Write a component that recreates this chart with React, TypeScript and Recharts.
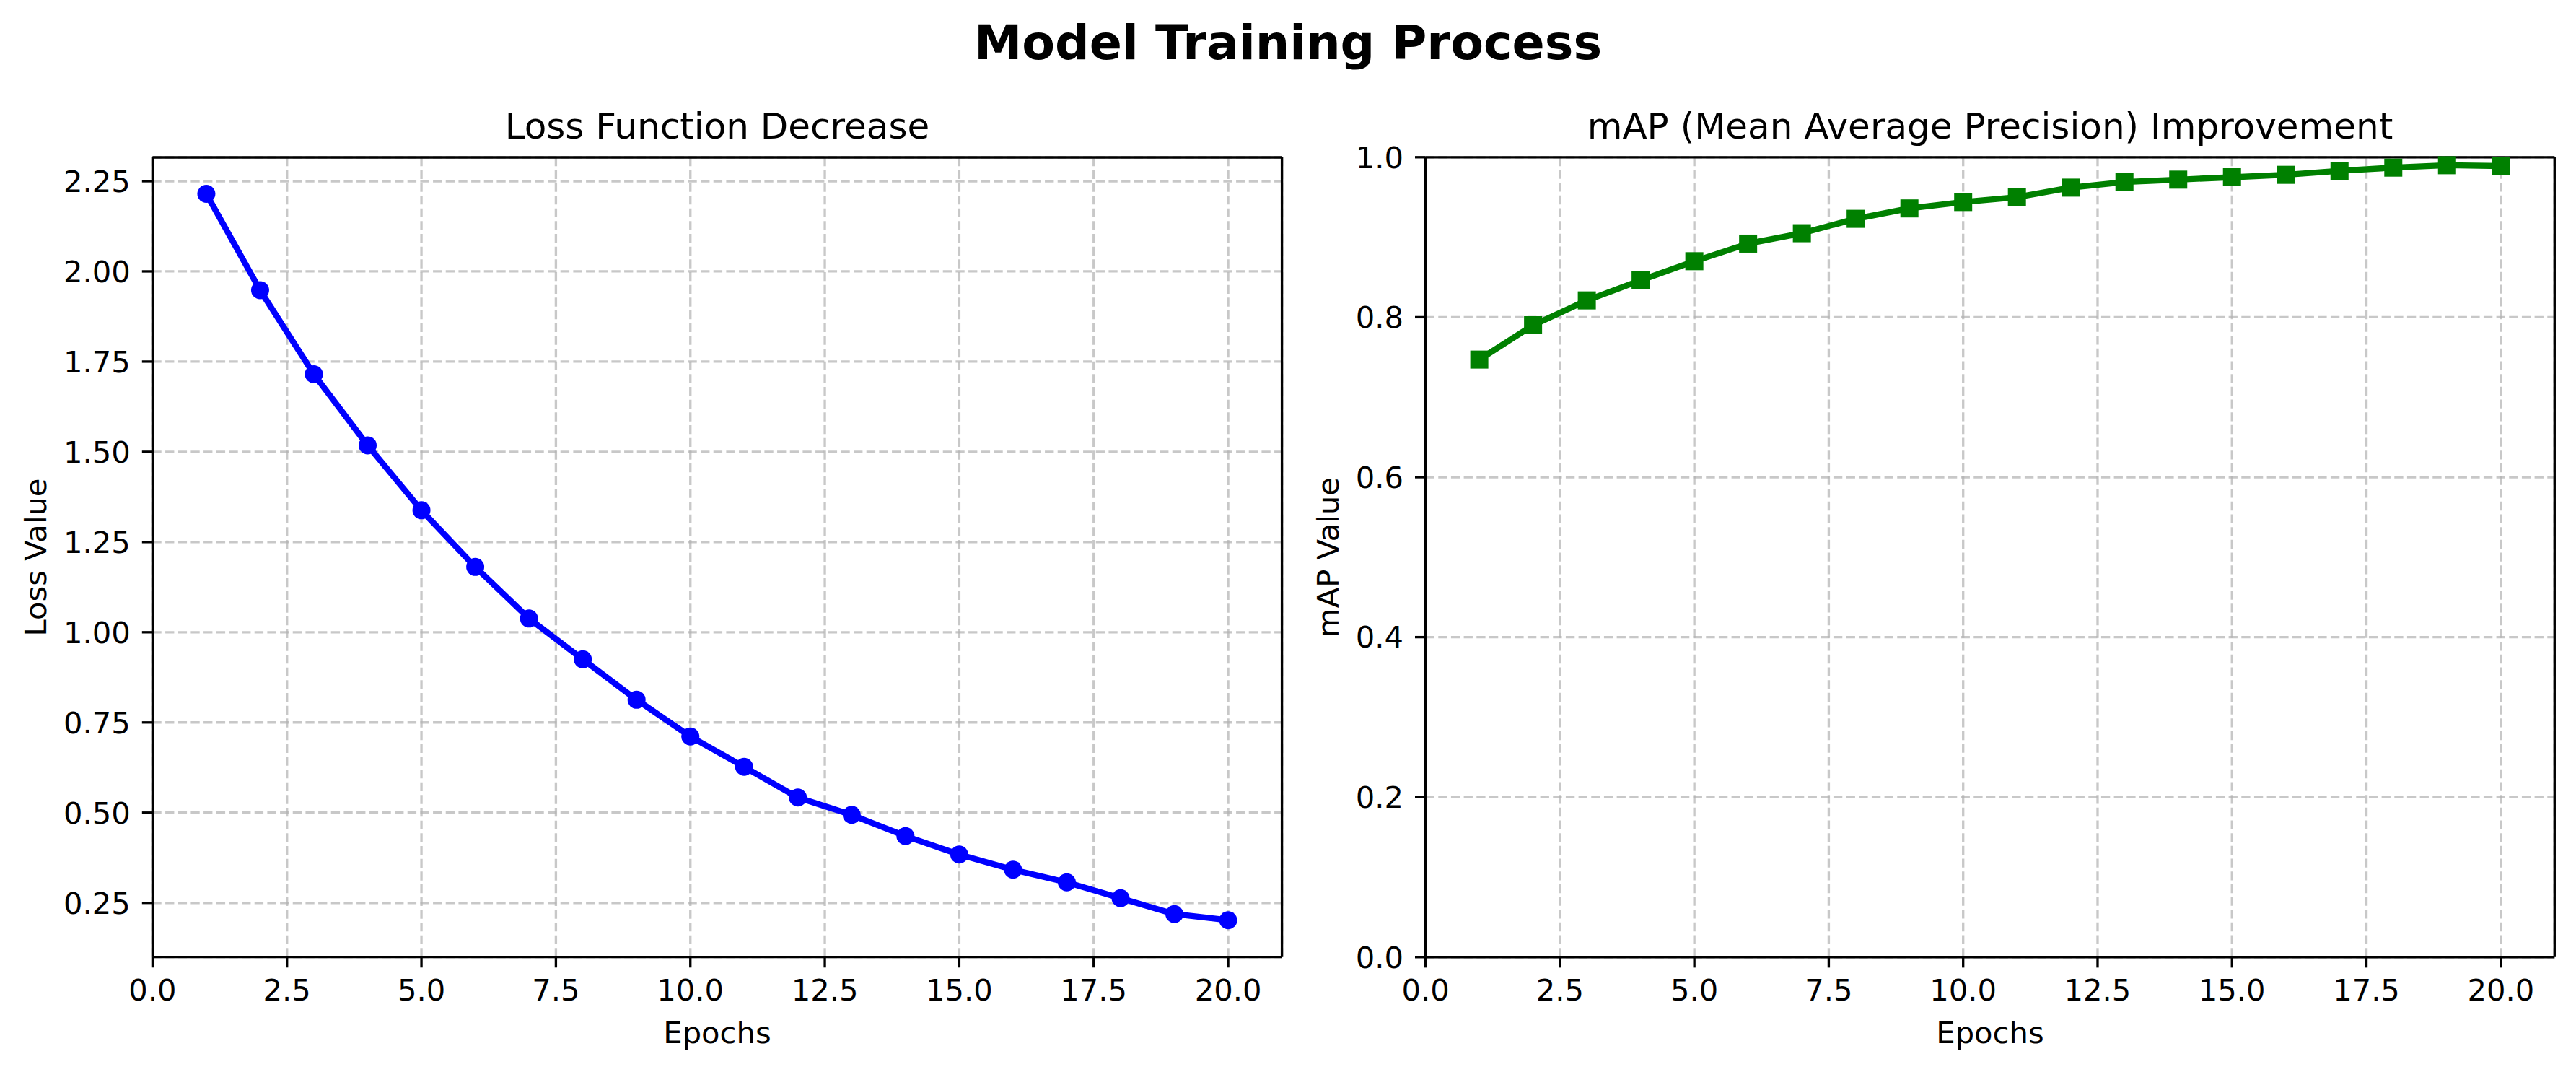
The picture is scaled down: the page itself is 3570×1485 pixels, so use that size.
import React from "react";
import { LineChart, Line, XAxis, YAxis, CartesianGrid, ReferenceLine } from "recharts";

// values
const EPOCHS = [1, 2, 3, 4, 5, 6, 7, 8, 9, 10, 11, 12, 13, 14, 15, 16, 17, 18, 19, 20];
const LOSS = [2.215, 1.948, 1.715, 1.518, 1.338, 1.181, 1.038, 0.925, 0.813, 0.711, 0.627, 0.542, 0.494, 0.435, 0.384, 0.342, 0.307, 0.263, 0.219, 0.202];
const MAP = [0.747, 0.79, 0.821, 0.846, 0.87, 0.892, 0.905, 0.923, 0.936, 0.944, 0.95, 0.962, 0.969, 0.972, 0.975, 0.978, 0.983, 0.987, 0.99, 0.989];

const X_TICKS = [0, 2.5, 5, 7.5, 10, 12.5, 15, 17.5, 20];
const LOSS_TICKS = [0.25, 0.5, 0.75, 1.0, 1.25, 1.5, 1.75, 2.0, 2.25];
const MAP_TICKS = [0, 0.2, 0.4, 0.6, 0.8, 1.0];

const lossData = EPOCHS.map((epoch, i) => ({ epoch, value: LOSS[i] }));
const mapData = EPOCHS.map((epoch, i) => ({ epoch, value: MAP[i] }));

const PT = 300 / 72; // figure was rendered at 300 dpi
const FONT = "DejaVu Sans";
const W = 1785;
const H = 1485;

const tickStyle = { fontSize: 10 * PT, fill: "#000", fontFamily: FONT };
const lineStyle = { stroke: "#000", strokeWidth: 0.8 * PT };

type PanelProps = {
  left: number;
  plotLeft: number;
  plotRight: number;
  plotTop: number;
  plotBottom: number;
  data: { epoch: number; value: number }[];
  yDomain: [number, number];
  yTicks: number[];
  yDigits: number;
  color: string;
  square?: boolean;
};

function Panel(p: PanelProps) {
  const dot = p.square
    ? (d: any) => (
        <rect key={`sq-${d.index}`} x={d.cx - 3 * PT} y={d.cy - 3 * PT} width={6 * PT} height={6 * PT} fill={p.color} />
      )
    : { r: 3 * PT, fill: p.color, stroke: "none", strokeWidth: 0 };

  return (
    <div style={{ position: "absolute", left: p.left, top: 0 }}>
      <LineChart
        width={W}
        height={H}
        data={p.data}
        margin={{ top: p.plotTop, right: W - p.plotRight, bottom: 0, left: 0 }}
      >
        <CartesianGrid
          stroke="#b0b0b0"
          strokeOpacity={0.7}
          strokeWidth={0.8 * PT}
          strokeDasharray={`${2.96 * PT} ${1.28 * PT}`}
        />
        <XAxis
          dataKey="epoch"
          type="number"
          domain={[0, 21]}
          ticks={X_TICKS}
          interval={0}
          tickFormatter={(v: number) => v.toFixed(1)}
          height={H - p.plotBottom}
          tick={tickStyle}
          tickSize={3.5 * PT}
          tickMargin={16}
          tickLine={lineStyle}
          axisLine={lineStyle}
        />
        <YAxis
          type="number"
          domain={p.yDomain}
          ticks={p.yTicks}
          interval={0}
          tickFormatter={(v: number) => v.toFixed(p.yDigits)}
          width={p.plotLeft}
          tick={tickStyle}
          tickSize={3.5 * PT}
          tickMargin={16}
          tickLine={lineStyle}
          axisLine={lineStyle}
        />
        <ReferenceLine y={p.yDomain[1]} stroke="#000" strokeWidth={0.8 * PT} />
        <ReferenceLine x={21} stroke="#000" strokeWidth={0.8 * PT} />
        <Line
          type="linear"
          dataKey="value"
          stroke={p.color}
          strokeWidth={2 * PT}
          strokeLinejoin="round"
          dot={dot}
          activeDot={false}
          isAnimationActive={false}
        />
      </LineChart>
    </div>
  );
}

export default function App() {
  const txt = { fontFamily: FONT, fill: "#000" };
  return (
    <div style={{ position: "absolute", left: 0, top: 0, width: 3570, height: H, background: "#fff", overflow: "hidden" }}>
      <Panel
        left={0}
        plotLeft={211.4}
        plotRight={1776.6}
        plotTop={218}
        plotBottom={1325.7}
        data={lossData}
        yDomain={[0.1, 2.316]}
        yTicks={LOSS_TICKS}
        yDigits={2}
        color="#0000ff"
      />
      <Panel
        left={W}
        plotLeft={190.6}
        plotRight={1755.3}
        plotTop={217.8}
        plotBottom={1325.8}
        data={mapData}
        yDomain={[0, 1]}
        yTicks={MAP_TICKS}
        yDigits={1}
        color="#008000"
        square
      />
      {/* titles and axis labels */}
      <svg width={3570} height={H} style={{ position: "absolute", left: 0, top: 0, pointerEvents: "none" }}>
        <text x={1785} y={81.7} textAnchor="middle" fontWeight="bold" fontSize={16 * PT} {...txt}>
          Model Training Process
        </text>
        <text x={994} y={192} textAnchor="middle" fontSize={12 * PT} {...txt}>
          Loss Function Decrease
        </text>
        <text x={2758} y={192} textAnchor="middle" fontSize={12 * PT} {...txt}>
          mAP (Mean Average Precision) Improvement
        </text>
        <text x={994} y={1445} textAnchor="middle" fontSize={10 * PT} {...txt}>
          Epochs
        </text>
        <text x={2758} y={1445} textAnchor="middle" fontSize={10 * PT} {...txt}>
          Epochs
        </text>
        <text
          x={49}
          y={772}
          textAnchor="middle"
          dominantBaseline="central"
          fontSize={10 * PT}
          transform="rotate(-90 49 772)"
          {...txt}
        >
          Loss Value
        </text>
        <text
          x={1840}
          y={772}
          textAnchor="middle"
          dominantBaseline="central"
          fontSize={10 * PT}
          transform="rotate(-90 1840 772)"
          {...txt}
        >
          mAP Value
        </text>
      </svg>
    </div>
  );
}
